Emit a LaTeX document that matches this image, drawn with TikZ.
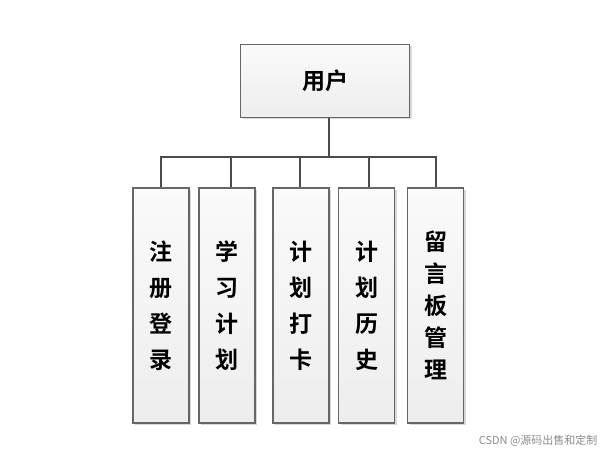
\documentclass[tikz,border=0pt]{standalone}
\usepackage{fontspec}
\newfontfamily\cjk{Noto Sans CJK SC}
\newfontfamily\cjkb{Noto Sans CJK SC Bold}
\usetikzlibrary{shadows}
\begin{document}
\begin{tikzpicture}[x=1pt,y=-1pt,
  box/.style={draw=black!60, line width=1.4pt, top color=black!2, bottom color=black!7,
    drop shadow={shadow xshift=2pt, shadow yshift=-2pt, fill=black!25, opacity=0.6},
    inner sep=0pt, font=\cjkb\fontsize{23}{23}\selectfont, text=black},
  vbox/.style={box, minimum width=56pt, minimum height=235pt, align=center},
  conn/.style={draw=black!70, line width=1.6pt}]
\useasboundingbox (0,0) rectangle (607,454);
\fill[white] (0,0) rectangle (607,454);
\node[box, minimum width=169pt, minimum height=73pt] (user) at (325,81) {用户};
\node[vbox, font=\cjkb\fontsize{23}{36}\selectfont] (a) at (161,305.5) {注\\册\\登\\录};
\node[vbox, font=\cjkb\fontsize{23}{36}\selectfont] (b) at (227,305.5) {学\\习\\计\\划};
\node[vbox, font=\cjkb\fontsize{23}{36}\selectfont] (c) at (301,305.5) {计\\划\\打\\卡};
\node[vbox, font=\cjkb\fontsize{23}{36}\selectfont] (d) at (366.5,305.5) {计\\划\\历\\史};
\node[vbox, font=\cjkb\fontsize{23}{32}\selectfont] (e) at (435.5,305.5) {留\\言\\板\\管\\理};
\coordinate (bus) at (329,157);
\draw[conn] (user.south -| bus) -- (bus);
\draw[conn] (a.north -| 161,0) |- (bus);
\draw[conn] (bus) -| (e.north -| 436,0);
\draw[conn] (b.north -| 231,0) -- (231,157);
\draw[conn] (c.north -| 300,0) -- (300,157);
\draw[conn] (d.north -| 369,0) -- (369,157);
\node[anchor=east, text=black!45, font=\cjk\fontsize{11}{11}\selectfont] (wm) at (601,441) {CSDN @源码出售和定制};
\end{tikzpicture}
\end{document}
